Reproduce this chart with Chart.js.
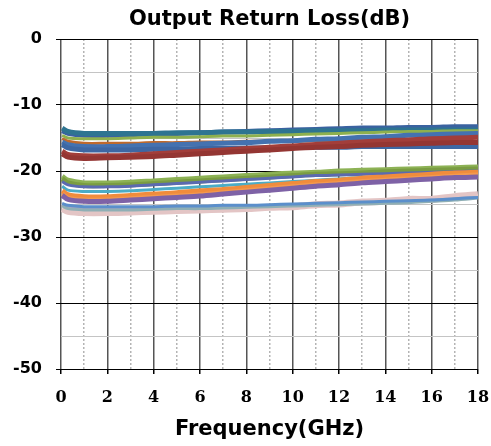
<!DOCTYPE html>
<html>
<head>
<meta charset="utf-8">
<script src="https://cdn.jsdelivr.net/npm/chart.js@4.4.0/dist/chart.umd.min.js"></script>
<style>
  html, body { margin: 0; padding: 0; background: #fff; }
</style>
</head>
<body>
<canvas id="rlChart" width="491" height="446"></canvas>
<script>
// frequency points (GHz)
const freqGHz = [0.05, 0.3, 1, 2, 3, 4, 5, 6, 7, 8, 9, 10, 11, 12, 13, 14, 15, 16, 17, 18];

// upper bundle (dB)
const redB     = [-17.4, -17.9, -18.1, -18.0, -17.9, -17.8, -17.6, -17.4, -17.2, -17.0, -16.8, -16.6, -16.4, -16.3, -16.1, -16.0, -15.9, -15.8, -15.7, -15.7];
const redA     = [-17.0, -17.5, -17.7, -17.7, -17.6, -17.4, -17.2, -17.0, -16.8, -16.6, -16.4, -16.2, -16.0, -15.8, -15.6, -15.4, -15.3, -15.1, -15.0, -14.9];
const blueLow  = [-16.0, -16.5, -16.8, -16.8, -16.8, -16.7, -16.7, -16.6, -16.6, -16.5, -16.5, -16.4, -16.4, -16.4, -16.3, -16.3, -16.3, -16.3, -16.3, -16.3];
const blueMid  = [-15.6, -16.0, -16.3, -16.3, -16.2, -16.1, -16.0, -15.9, -15.8, -15.7, -15.5, -15.4, -15.2, -15.1, -14.9, -14.8, -14.6, -14.5, -14.4, -14.3];
const orangeUp = [-15.1, -15.5, -15.8, -15.8, -15.8, -15.7, -15.7, -15.6, -15.6, -15.5, -15.5, -15.5, -15.4, -15.4, -15.4, -15.4, -15.4, -15.5, -15.5, -15.5];
const greenUp  = [-14.6, -15.0, -15.1, -15.1, -15.0, -14.9, -14.9, -14.8, -14.7, -14.7, -14.6, -14.5, -14.4, -14.3, -14.2, -14.1, -14.0, -14.0, -13.9, -13.9];
const tealTop  = [-13.5, -14.0, -14.3, -14.3, -14.3, -14.3, -14.2, -14.2, -14.1, -14.1, -14.0, -14.0, -13.9, -13.9, -13.9, -13.8, -13.8, -13.8, -13.8, -13.8];
const navyTop  = [-13.9, -14.3, -14.6, -14.6, -14.5, -14.4, -14.3, -14.2, -14.1, -14.0, -13.9, -13.8, -13.7, -13.6, -13.5, -13.5, -13.4, -13.4, -13.3, -13.3];

// middle bundle (dB)
const purpleLo  = [-23.7, -24.3, -24.6, -24.6, -24.4, -24.2, -24.0, -23.8, -23.5, -23.2, -22.9, -22.6, -22.3, -22.1, -21.8, -21.6, -21.4, -21.2, -21.0, -20.9];
const orangeLo2 = [-23.5, -24.1, -24.4, -24.4, -24.2, -24.0, -23.8, -23.6, -23.3, -23.0, -22.7, -22.4, -22.1, -21.9, -21.6, -21.4, -21.2, -21.0, -20.8, -20.6];
const orangeLo  = [-23.0, -23.6, -23.9, -23.9, -23.7, -23.5, -23.3, -23.0, -22.8, -22.5, -22.2, -21.9, -21.6, -21.4, -21.1, -20.9, -20.7, -20.5, -20.3, -20.2];
const aquaLo    = [-22.3, -22.9, -23.1, -23.1, -23.0, -22.8, -22.6, -22.4, -22.2, -22.0, -21.8, -21.6, -21.4, -21.2, -21.0, -20.9, -20.8, -20.6, -20.5, -20.4];
const indigoLo  = [-21.6, -22.1, -22.4, -22.4, -22.3, -22.1, -21.9, -21.7, -21.5, -21.3, -21.1, -20.9, -20.7, -20.6, -20.5, -20.4, -20.3, -20.2, -20.1, -20.0];
const greenLo2  = [-21.2, -21.8, -22.2, -22.2, -22.1, -21.9, -21.7, -21.5, -21.3, -21.1, -20.9, -20.7, -20.5, -20.4, -20.3, -20.1, -20.0, -19.9, -19.8, -19.7];
const greenLo   = [-20.8, -21.4, -21.8, -21.8, -21.7, -21.5, -21.3, -21.1, -20.9, -20.7, -20.5, -20.3, -20.2, -20.0, -19.9, -19.8, -19.7, -19.6, -19.5, -19.4];

// bottom bundle (dB)
const blueBot = [-24.9, -25.2, -25.4, -25.4, -25.4, -25.4, -25.3, -25.3, -25.2, -25.2, -25.1, -25.0, -24.9, -24.8, -24.7, -24.6, -24.5, -24.4, -24.2, -24.0];
const grayBot = [-25.3, -25.7, -25.9, -25.9, -25.9, -25.8, -25.7, -25.7, -25.6, -25.5, -25.4, -25.3, -25.2, -25.1, -25.0, -24.9, -24.8, -24.6, -24.4, -24.1];
const lavBot  = [-25.1, -25.5, -25.7, -25.7, -25.7, -25.6, -25.6, -25.5, -25.5, -25.4, -25.3, -25.2, -25.1, -25.0, -24.9, -24.7, -24.6, -24.4, -24.2, -24.0];
const pinkBot = [-25.7, -26.1, -26.3, -26.3, -26.2, -26.1, -26.0, -25.9, -25.8, -25.7, -25.5, -25.4, -25.1, -25.0, -24.7, -24.6, -24.3, -24.3, -23.9, -23.6];

const yTicks = [0, -10, -20, -30, -40, -50];

function series(values, color, width) {
  return {
    data: values.map((v, i) => ({ x: freqGHz[i], y: v })),
    borderColor: color,
    backgroundColor: color,
    borderWidth: width || 5,
    pointRadius: 0,
    tension: 0.3,
    fill: false
  };
}

// chart title centred over the plot area
const plotTitle = {
  id: 'plotTitle',
  afterDraw(chart) {
    const { ctx, chartArea } = chart;
    ctx.save();
    ctx.font = 'bold 21px "DejaVu Sans"';
    ctx.fillStyle = '#000';
    ctx.textAlign = 'center';
    ctx.textBaseline = 'middle';
    ctx.fillText('Output Return Loss(dB)', (chartArea.left + chartArea.right) / 2, 20);
    ctx.restore();
  }
};

const tickFont = { family: '"DejaVu Sans"', size: 16, weight: 'bold' };

new Chart(document.getElementById('rlChart').getContext('2d'), {
  type: 'line',
  data: {
    datasets: [
      series(redB, '#943633'),
      series(redA, '#A23E3A'),
      series(blueLow, '#3D67A3'),
      series(blueMid, '#4472B0'),
      series(orangeUp, '#C06A2B', 3),
      series(greenUp, '#8EB04E', 3),
      series(tealTop, '#2E7491'),
      series(navyTop, '#3A62A0'),
      series(purpleLo, '#7E62A6'),
      series(orangeLo2, '#F39A4E'),
      series(orangeLo, '#F08C3C'),
      series(aquaLo, '#4BACC6', 3),
      series(indigoLo, '#5B6AB0', 3),
      series(greenLo2, '#7A9C42'),
      series(greenLo, '#8DB255'),
      series(blueBot, '#5B8FCB', 3),
      series(grayBot, '#8FAFB5', 3),
      series(lavBot, '#A7A4C2', 3),
      series(pinkBot, '#E3C5C5', 7)
    ]
  },
  options: {
    responsive: false,
    animation: false,
    layout: { padding: { top: 39, right: 13, left: 0, bottom: 0 } },
    plugins: {
      legend: { display: false },
      tooltip: { enabled: false }
    },
    scales: {
      x: {
        type: 'linear',
        min: 0,
        max: 18,
        ticks: {
          stepSize: 2,
          autoSkip: false,
          maxRotation: 0,
          color: '#000',
          padding: 14,
          font: { family: '"DejaVu Serif"', size: 16, weight: 'bold' }
        },
        grid: { color: '#555', lineWidth: 1.5, tickLength: 5, tickColor: '#000' },
        border: { display: false },
        title: {
          display: true,
          text: 'Frequency(GHz)',
          color: '#000',
          font: { family: '"DejaVu Sans"', size: 21, weight: 'bold' },
          padding: { top: 0, bottom: 4 }
        },
        afterFit: s => { s.height = 77; s.paddingLeft = 0; s.paddingRight = 0; }
      },
      xMinor: {
        type: 'linear',
        position: 'top',
        min: 0,
        max: 18,
        ticks: { stepSize: 1, display: false },
        grid: {
          color: c => (c.tick && c.tick.value % 2 !== 0) ? '#b4b4b4' : 'rgba(0,0,0,0)',
          lineWidth: 1.5,
          drawTicks: false
        },
        border: { display: false, dash: [2, 2] },
        afterFit: s => { s.height = 0; s.paddingLeft = 0; s.paddingRight = 0; }
      },
      y: {
        min: -50,
        max: 0,
        ticks: {
          stepSize: 5,
          color: '#000',
          padding: 14,
          font: tickFont,
          callback: v => yTicks.includes(v) ? v : ''
        },
        grid: {
          color: c => yTicks.includes(c.tick.value) ? '#000' : '#c4c4c4',
          tickColor: c => yTicks.includes(c.tick.value) ? '#000' : 'rgba(0,0,0,0)',
          tickLength: 5
        },
        border: { display: false },
        afterFit: s => { s.width = 61; }
      }
    }
  },
  plugins: [plotTitle]
});
</script>
</body>
</html>
